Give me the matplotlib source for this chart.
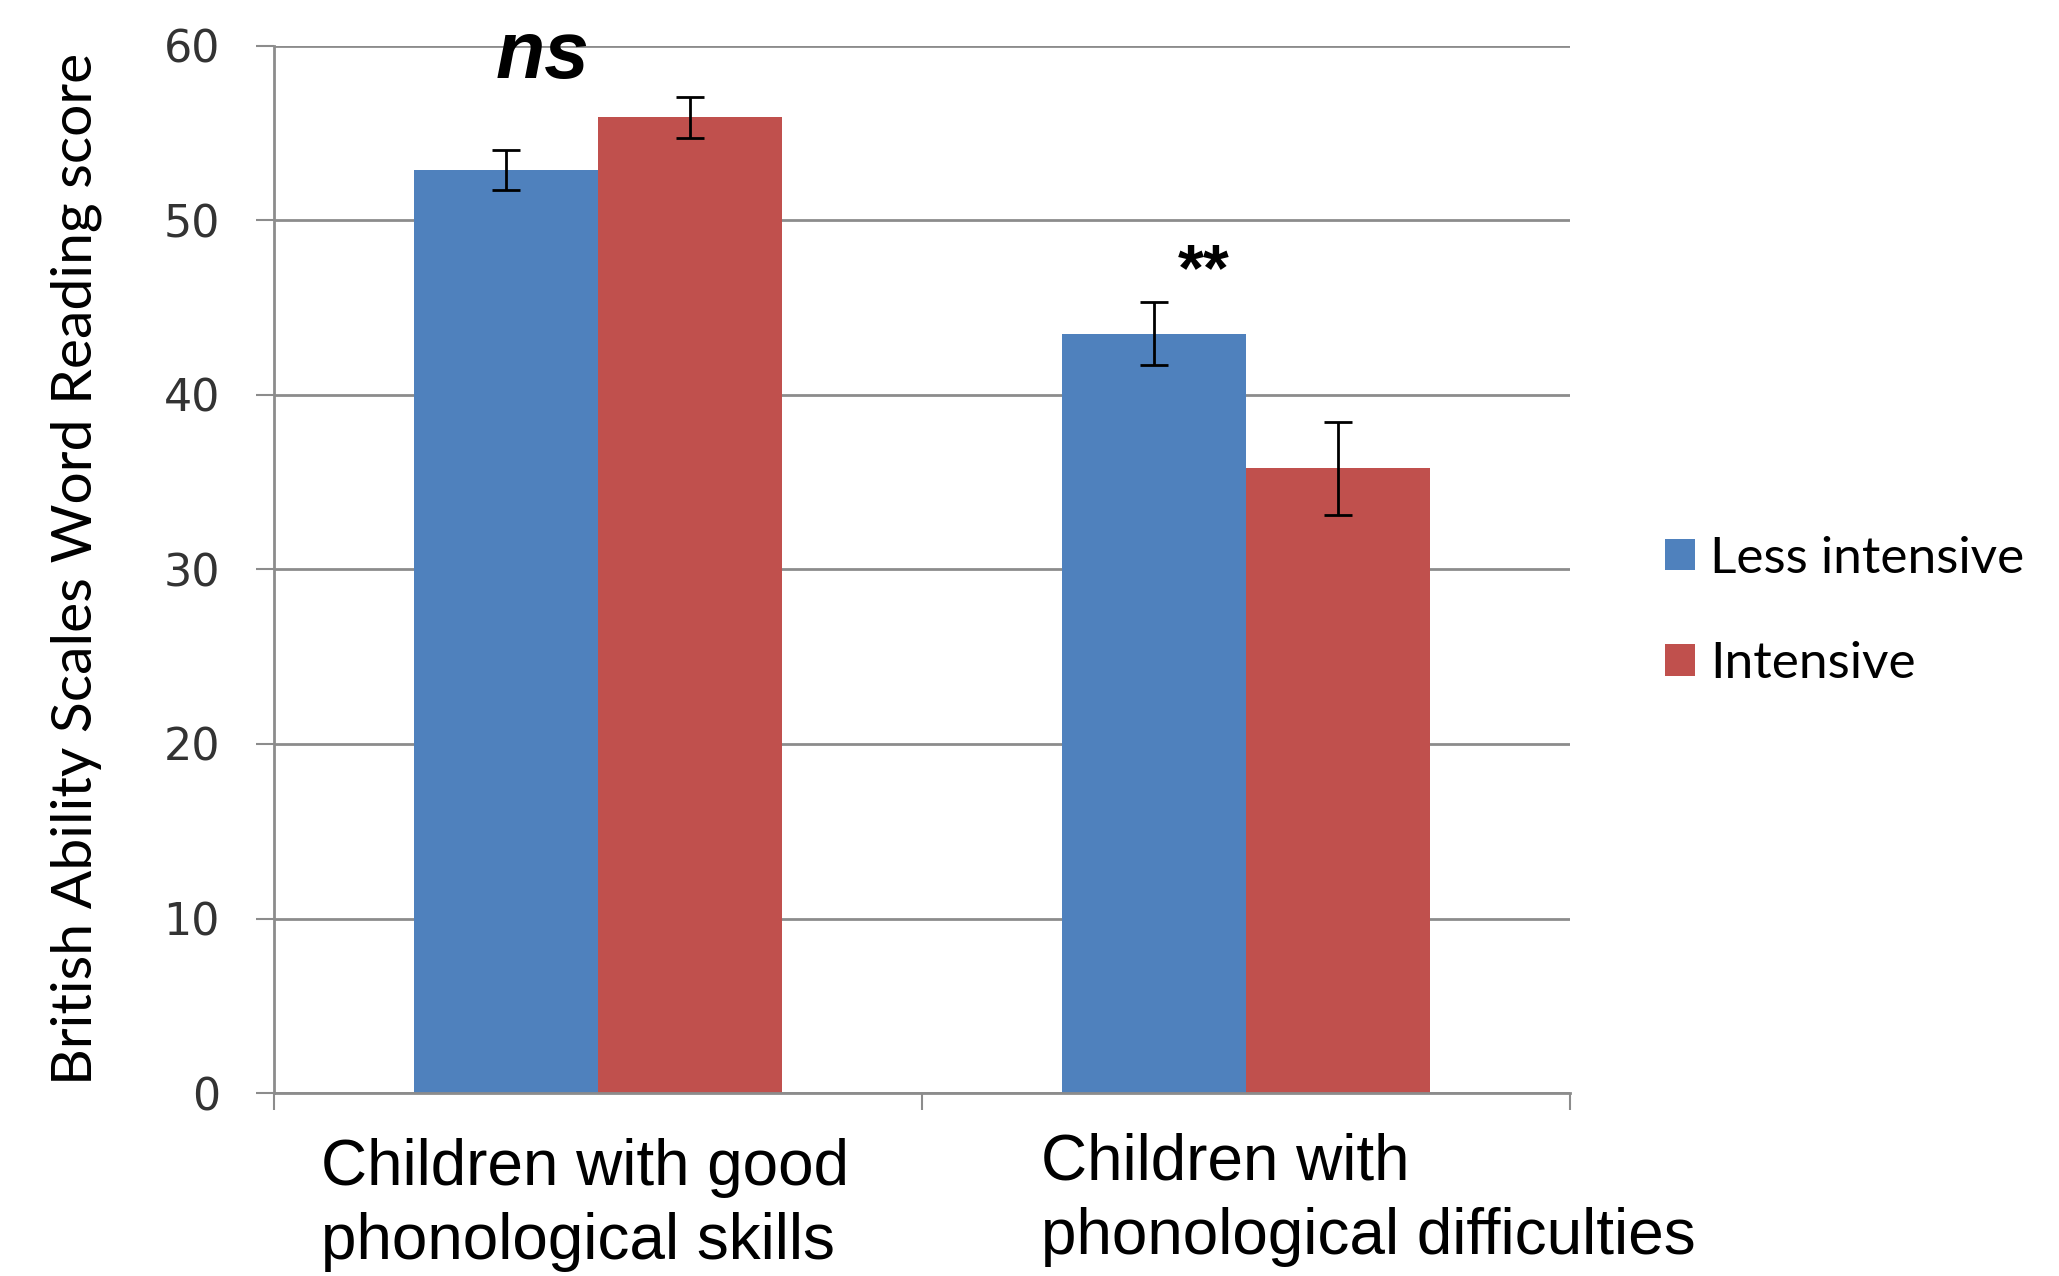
import numpy as np
import matplotlib.pyplot as plt

# data
groups = ["Children with good\nphonological skills",
          "Children with\nphonological difficulties"]
series = ["Less intensive", "Intensive"]
less_intensive = [52.9, 43.5]
less_err = [1.15, 1.8]
intensive = [55.9, 35.8]
intensive_err = [1.2, 2.65]
annotations = ["ns", "**"]

colors = ["#4F81BD", "#C0504D"]
grid_col = "#8C8C8C"

fig = plt.figure(figsize=(20.59, 12.76), dpi=100)
ax = fig.add_axes([0.1331, 0.1434, 0.7625 - 0.1331, 0.964 - 0.1434])

x = np.arange(len(groups))
w = 0.284
ax.bar(x - w / 2, less_intensive, w, color=colors[0], label=series[0], zorder=2)
ax.bar(x + w / 2, intensive, w, color=colors[1], label=series[1], zorder=2)
ax.errorbar(x - w / 2, less_intensive, yerr=less_err, fmt="none", ecolor="black",
            elinewidth=2, capsize=10, capthick=2, zorder=3)
ax.errorbar(x + w / 2, intensive, yerr=intensive_err, fmt="none", ecolor="black",
            elinewidth=2, capsize=10, capthick=2, zorder=3)

ax.set_xlim(-0.5, 1.5)
ax.set_ylim(0, 60)
ax.set_yticks(np.arange(0, 61, 10))
ax.yaxis.grid(True, color=grid_col, linewidth=2, zorder=0)
ax.set_axisbelow(True)
for s in ["top", "right"]:
    ax.spines[s].set_visible(False)
ax.spines["left"].set_color(grid_col)
ax.spines["left"].set_linewidth(2)
ax.spines["bottom"].set_color(grid_col)
ax.spines["bottom"].set_linewidth(2)
ax.tick_params(axis="y", length=13, width=1.5, color=grid_col, pad=26,
               labelsize=32, labelcolor="#333333")
ax.set_xticks([-0.5, 0.5, 1.5])
ax.set_xticklabels([])
ax.tick_params(axis="x", length=12, width=1.5, color=grid_col)
for lab in ax.get_yticklabels():
    lab.set_family("DejaVu Sans")

# category labels, left aligned under each group like the original
label_off = [-0.427, -0.317]
label_y = [-0.043, -0.038]
for i, g in enumerate(groups):
    ax.text(x[i] + label_off[i], label_y[i], g, transform=ax.get_xaxis_transform(),
            ha="left", va="top", fontsize=46, family=["Liberation Sans", "DejaVu Sans"],
            linespacing=1.3)

# significance markers
ax.text(x[0] - 0.085, 58.15, annotations[0], ha="center", va="baseline",
        fontsize=58, fontweight="bold", fontstyle="italic",
        family=["Liberation Sans", "DejaVu Sans"])
ax.text(x[1] - w / 2 + 0.077, 46.0, annotations[1], ha="center", va="baseline",
        fontsize=48, fontweight="bold", family=["Liberation Sans", "DejaVu Sans"])

fig.text(0.037, 0.554, "British Ability Scales Word Reading score", rotation=90,
         ha="center", va="center", fontsize=41,
         family=["Lato", "DejaVu Sans"])

ax.legend(loc="center left", bbox_to_anchor=(0.8087, 0.521),
          bbox_transform=fig.transFigure, frameon=False, borderpad=0,
          borderaxespad=0, handlelength=0.58, handleheight=0.58,
          handletextpad=0.3, labelspacing=1.15,
          prop={"family": ["Lato", "DejaVu Sans"], "size": 37})

fig.savefig("out.png", dpi=100)
